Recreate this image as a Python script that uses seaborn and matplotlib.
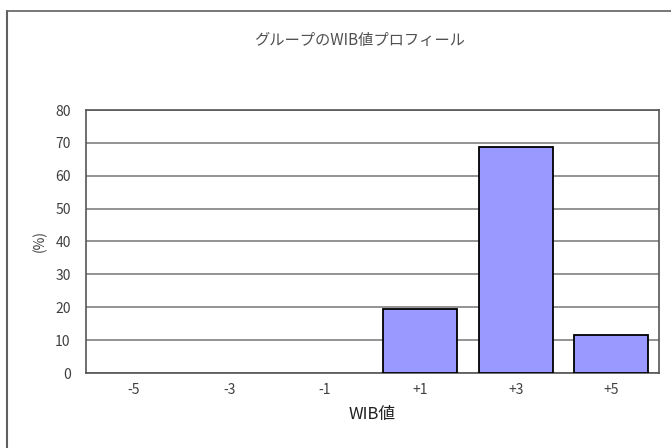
import matplotlib
matplotlib.use("Agg")
import matplotlib.pyplot as plt
from matplotlib.lines import Line2D
from matplotlib.ticker import FixedLocator
import seaborn as sns
import pandas as pd

categories = ["-5", "-3", "-1", "+1", "+3", "+5"]
percent = [0, 0, 0, 19.6, 68.8, 11.6]
y_ticks = [0, 10, 20, 30, 40, 50, 60, 70, 80]

sns.set_style("white")
plt.rcParams["font.family"] = ["Noto Sans CJK JP", "DejaVu Sans"]

df = pd.DataFrame({"WIB": categories, "pct": percent})

fig = plt.figure(figsize=(6.71, 4.48), dpi=100)
ax = fig.add_axes([86 / 671, 1 - 373 / 448, (659 - 86) / 671, (373 - 110) / 448])

sns.barplot(data=df, x="WIB", y="pct", order=categories, color="#9999FF",
            saturation=1, width=0.77, edgecolor="black", linewidth=1.3,
            ax=ax, zorder=3)

# empty categories get no outline
for patch in ax.patches:
    if patch.get_height() == 0:
        patch.set_linewidth(0)

ax.set_ylim(0, 80)
ax.set_xlim(-0.5, len(categories) - 0.5)
ax.set_yticks(y_ticks)
ax.yaxis.grid(True, color="#808080", linewidth=1.2, zorder=0)
ax.set_axisbelow(True)

# boundary tick marks between categories
ax.xaxis.set_minor_locator(FixedLocator([i + 0.5 for i in range(len(categories) - 1)]))
ax.tick_params(axis="x", which="minor", direction="in", length=4, width=1, color="#606060")
ax.tick_params(axis="x", which="major", length=0, pad=7, labelsize=10, labelcolor="#404040")
ax.tick_params(axis="y", length=0, pad=11, labelsize=10, labelcolor="#404040")

for s in ax.spines.values():
    s.set_visible(True)
    s.set_color("#555555")
    s.set_linewidth(1.2)

ax.set_xlabel("WIB値", fontsize=12, color="#202020", labelpad=7)
ax.set_ylabel("(%)", fontsize=10, color="#404040", labelpad=6)

fig.text(360 / 671, 1 - 40 / 448, "グループのWIB値プロフィール", ha="center", va="center",
         fontsize=11, color="#505050")

# outer frame along the top and left edges
fig.add_artist(Line2D([7 / 671, 1], [1 - 11 / 448, 1 - 11 / 448], transform=fig.transFigure,
                      color="#606060", linewidth=1.2))
fig.add_artist(Line2D([7 / 671, 7 / 671], [0, 1 - 11 / 448], transform=fig.transFigure,
                      color="#606060", linewidth=1.5))

fig.savefig("out.png", dpi=100, facecolor="white")
